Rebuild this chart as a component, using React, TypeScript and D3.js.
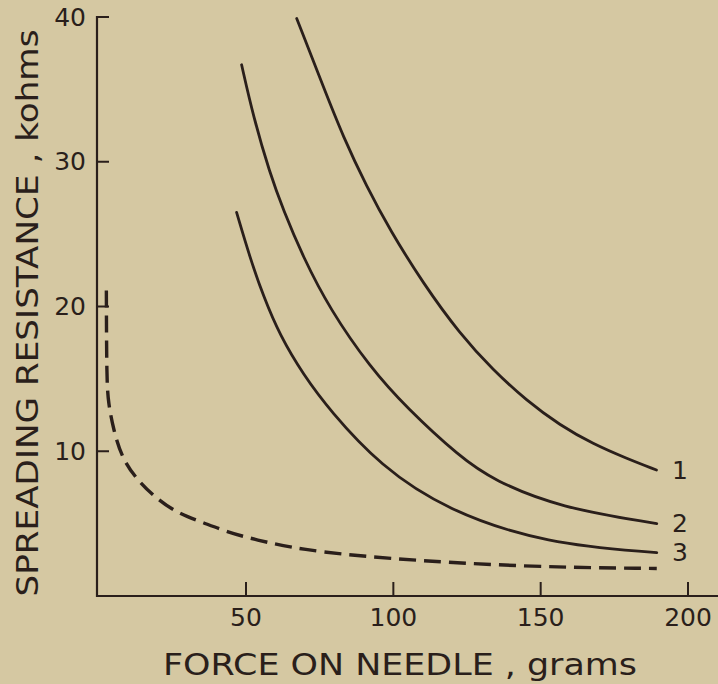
import React from "react";
import * as d3 from "d3";

// Force on needle (grams) vs spreading resistance (kohms)
const curve1Force = [67.2, 76.2, 83.0, 90.9, 98.8, 110.1, 122.6, 133.9, 145.2, 156.5, 167.8, 179.2, 189.3];
const curve1Res = [39.9, 35.2, 31.7, 28.3, 25.3, 21.6, 18.1, 15.6, 13.5, 11.8, 10.5, 9.5, 8.7];

const curve2Force = [48.5, 52.5, 58.1, 62.6, 69.4, 78.5, 92.1, 104.5, 122.6, 133.9, 156.5, 189.4];
const curve2Res = [36.7, 33.1, 29.2, 26.7, 23.4, 19.8, 15.8, 13.0, 9.6, 8.0, 6.1, 5.0];

const curve3Force = [46.8, 51.3, 55.9, 61.5, 69.4, 78.5, 95.5, 118.2, 152.1, 189.4];
const curve3Res = [26.5, 23.4, 20.7, 18.0, 15.3, 12.8, 9.0, 5.9, 3.6, 3.0];

const dashedForce = [2.6, 2.7, 3.3, 5.0, 7.8, 12.3, 19.1, 26.9, 35.1, 43.9, 53.0, 68.3, 95.5, 145.3, 189.4];
const dashedRes = [21.1, 14.9, 13.3, 11.5, 9.6, 8.2, 6.8, 5.7, 5.1, 4.4, 3.9, 3.2, 2.6, 2.0, 1.9];

const curveLabels = ["1", "2", "3"];
const xTicks = [50, 100, 150, 200];
const yTicks = [10, 20, 30, 40];
const xTitle = "FORCE ON NEEDLE , grams";
const yTitle = "SPREADING RESISTANCE , kohms";

const W = 718;
const H = 684;
const BG = "#d5c8a2";
const INK = "#2a1f1b";
const FONT = "'DejaVu Sans', sans-serif";

export default function App() {
  const x = d3.scaleLinear().domain([0, 200]).range([98.7, 688]);
  const y = d3.scaleLinear().domain([0, 40]).range([596, 17]);

  const line = d3
    .line<[number, number]>()
    .x((d) => x(d[0]))
    .y((d) => y(d[1]))
    .curve(d3.curveBasis);

  const zip = (a: number[], b: number[]) => a.map((v, i) => [v, b[i]] as [number, number]);

  const solids = [
    zip(curve1Force, curve1Res),
    zip(curve2Force, curve2Res),
    zip(curve3Force, curve3Res),
  ];
  const dashed = zip(dashedForce, dashedRes);

  const axisX = 97;
  const axisY = 596;

  return (
    <div style={{ position: "fixed", left: 0, top: 0, width: W, height: H }}>
      <svg width={W} height={H} style={{ display: "block", background: BG }}>
        <rect x={0} y={0} width={W} height={H} fill={BG} />
        {/* axes */}
        <line x1={axisX} y1={y(40) - 1} x2={axisX} y2={axisY + 1} stroke={INK} strokeWidth={2.2} />
        <line x1={axisX - 1} y1={axisY} x2={W} y2={axisY} stroke={INK} strokeWidth={2.2} />
        {yTicks.map((t) => (
          <g key={"y" + t}>
            <line x1={axisX} x2={axisX + 12} y1={y(t)} y2={y(t)} stroke={INK} strokeWidth={2} />
            <text
              x={86}
              y={y(t)}
              textAnchor="end"
              dominantBaseline="central"
              fontFamily={FONT}
              fontSize={25}
              fill={INK}
            >
              {t}
            </text>
          </g>
        ))}
        {xTicks.map((t) => (
          <g key={"x" + t}>
            <line x1={x(t)} x2={x(t)} y1={axisY} y2={axisY - 14} stroke={INK} strokeWidth={2} />
            <text
              x={x(t)}
              y={617}
              textAnchor="middle"
              dominantBaseline="central"
              fontFamily={FONT}
              fontSize={25}
              fill={INK}
            >
              {t}
            </text>
          </g>
        ))}
        {/* curves */}
        {solids.map((pts, i) => (
          <path key={"c" + i} d={line(pts) || ""} fill="none" stroke={INK} strokeWidth={2.8} strokeLinecap="round" />
        ))}
        <path
          d={line(dashed) || ""}
          fill="none"
          stroke={INK}
          strokeWidth={3.4}
          strokeDasharray="17 8"
        />
        {/* curve labels */}
        {solids.map((pts, i) => (
          <text
            key={"l" + i}
            x={680}
            y={y(pts[pts.length - 1][1])}
            textAnchor="middle"
            dominantBaseline="central"
            fontFamily={FONT}
            fontSize={25}
            fill={INK}
          >
            {curveLabels[i]}
          </text>
        ))}
        {/* titles */}
        <text
          x={400}
          y={664}
          textAnchor="middle"
          dominantBaseline="central"
          fontFamily={FONT}
          fontSize={30}
          fill={INK}
          textLength={474}
          lengthAdjust="spacingAndGlyphs"
        >
          {xTitle}
        </text>
        <text
          transform={`translate(27,313) rotate(-90)`}
          textAnchor="middle"
          dominantBaseline="central"
          fontFamily={FONT}
          fontSize={31}
          fill={INK}
          textLength={567}
          lengthAdjust="spacingAndGlyphs"
        >
          {yTitle}
        </text>
      </svg>
    </div>
  );
}
